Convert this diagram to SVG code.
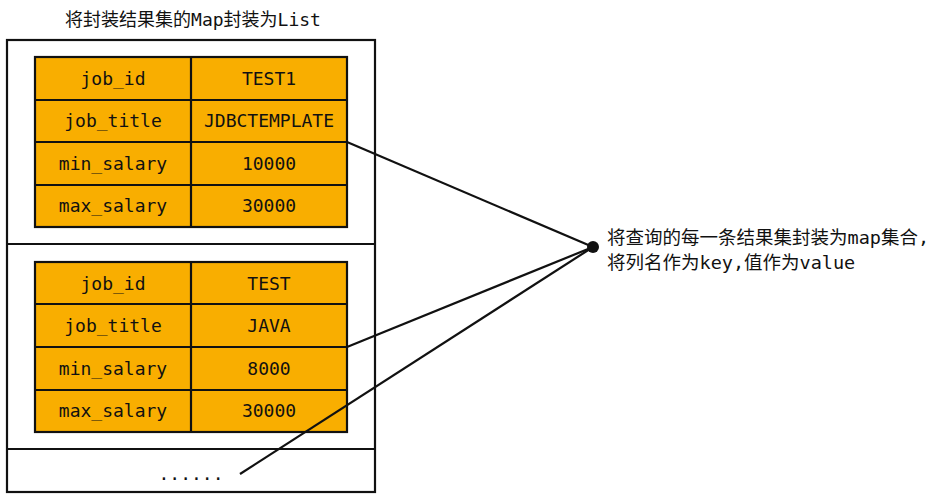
<svg xmlns="http://www.w3.org/2000/svg" width="936" height="500" viewBox="0 0 936 500">
<style>
.t{font-family:"DejaVu Sans Mono","Noto Sans CJK SC",monospace;font-size:18px;fill:#111}
.n{font-size:18.5px}
.c{text-anchor:middle}
.cell{fill:#F9AE00;stroke:#111;stroke-width:2.2}
.box{fill:#fff;stroke:#111;stroke-width:2.2}
.ln{stroke:#111;stroke-width:2.2;fill:none}
</style>
<rect width="936" height="500" fill="#fff"/>
<text class="t c" x="193" y="26">将封装结果集的Map封装为List</text>
<g id="list">
<rect class="box" x="7" y="40" width="368" height="452"/>
<line class="ln" x1="7" y1="244" x2="375" y2="244"/>
<line class="ln" x1="7" y1="449" x2="375" y2="449"/>
<text class="t c" x="191" y="480">......</text>
</g>
<g id="map1">
<rect class="cell" x="35" y="57" width="312" height="170"/>
<line class="ln" x1="191" y1="57" x2="191" y2="227"/>
<line class="ln" x1="35" y1="100" x2="347" y2="100"/>
<line class="ln" x1="35" y1="142" x2="347" y2="142"/>
<line class="ln" x1="35" y1="185" x2="347" y2="185"/>
<text class="t c" x="113" y="85">job_id</text><text class="t c" x="269" y="85">TEST1</text>
<text class="t c" x="113" y="127">job_title</text><text class="t c" x="269" y="127">JDBCTEMPLATE</text>
<text class="t c" x="113" y="170">min_salary</text><text class="t c" x="269" y="170">10000</text>
<text class="t c" x="113" y="212">max_salary</text><text class="t c" x="269" y="212">30000</text>
</g>
<g id="map2">
<rect class="cell" x="35" y="262" width="312" height="170"/>
<line class="ln" x1="191" y1="262" x2="191" y2="432"/>
<line class="ln" x1="35" y1="304" x2="347" y2="304"/>
<line class="ln" x1="35" y1="347" x2="347" y2="347"/>
<line class="ln" x1="35" y1="390" x2="347" y2="390"/>
<text class="t c" x="113" y="290">job_id</text><text class="t c" x="269" y="290">TEST</text>
<text class="t c" x="113" y="332">job_title</text><text class="t c" x="269" y="332">JAVA</text>
<text class="t c" x="113" y="375">min_salary</text><text class="t c" x="269" y="375">8000</text>
<text class="t c" x="113" y="417">max_salary</text><text class="t c" x="269" y="417">30000</text>
</g>
<g id="connectors">
<line class="ln" x1="347" y1="142" x2="593" y2="247"/>
<line class="ln" x1="347" y1="347" x2="593" y2="247"/>
<line class="ln" x1="240" y1="474" x2="593" y2="247"/>
<circle cx="593" cy="247" r="6" fill="#111"/>
</g>
<g id="note">
<text class="t n" x="607" y="244">将查询的每一条结果集封装为map集合,</text>
<text class="t n" x="607" y="269">将列名作为key,值作为value</text>
</g>
</svg>
